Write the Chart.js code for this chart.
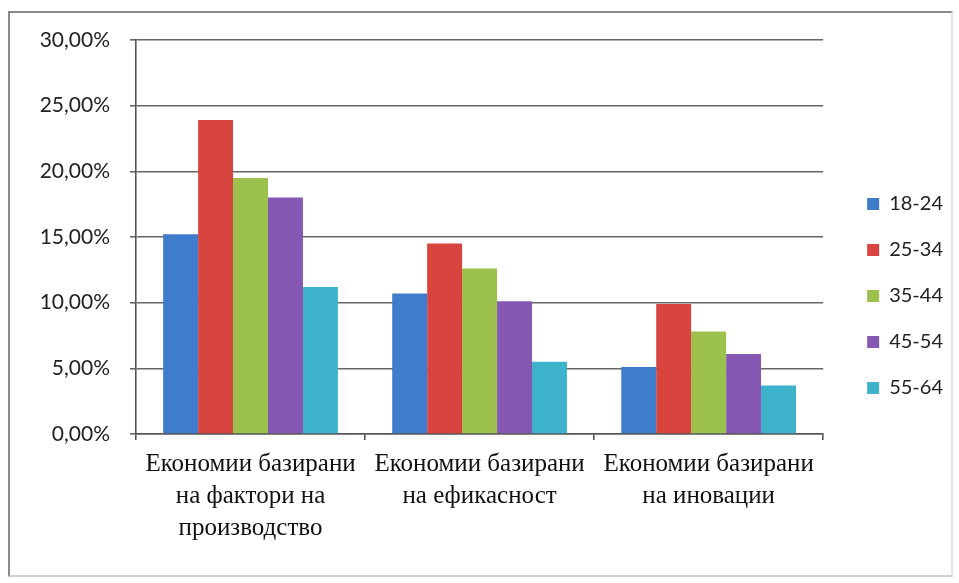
<!DOCTYPE html>
<html>
<head>
<meta charset="utf-8">
<script src="https://cdn.jsdelivr.net/npm/chart.js@4"></script>
<style>
  html, body { margin: 0; padding: 0; background: #fff; }
  #wrap { position: relative; width: 959px; height: 583px; }
  #frame { position: absolute; left: 8px; top: 11px; width: 945px; height: 566px; border: 2px solid #8a8a8a; border-right-color: #e4e4e4; border-bottom-color: #cfcfcf; box-sizing: border-box; }
  canvas { position: absolute; left: 0; top: 0; }
</style>
</head>
<body>
<div id="wrap">
  <div id="frame"></div>
  <canvas id="c" width="959" height="583"></canvas>
</div>
<script>
const categories = [
  ["Економии базирани", "на фактори на", "производство"],
  ["Економии базирани", "на ефикасност"],
  ["Економии базирани", "на иновации"]
];
const seriesNames = ["18-24", "25-34", "35-44", "45-54", "55-64"];
const s18_24 = [15.2, 10.7, 5.1];
const s25_34 = [23.9, 14.5, 9.9];
const s35_44 = [19.5, 12.6, 7.8];
const s45_54 = [18.0, 10.1, 6.1];
const s55_64 = [11.2, 5.5, 3.7];
const yTicks = [0, 5, 10, 15, 20, 25, 30];
const colors = ["#3f7dcc", "#d8453f", "#9cc24d", "#8458b3", "#3db3cb"];

const seriesValues = [s18_24, s25_34, s35_44, s45_54, s55_64];
const datasets = seriesNames.map((n, i) => ({
  label: n,
  data: seriesValues[i],
  backgroundColor: colors[i],
  borderWidth: 0,
  categoryPercentage: 0.763,
  barPercentage: 1.0
}));

const shiftLegend = {
  id: 'shiftLegend',
  afterLayout(chart) {
    if (chart.legend) { chart.legend.left += 18; chart.legend.right += 18; }
  }
};

new Chart(document.getElementById('c'), {
  type: 'bar',
  data: { labels: categories, datasets },
  plugins: [shiftLegend],
  options: {
    responsive: false,
    animation: false,
    layout: { padding: { left: 8, right: 24, top: 40, bottom: 31 } },
    plugins: {
      tooltip: { enabled: false },
      legend: {
        position: 'right',
        labels: {
          boxWidth: 12, boxHeight: 12,
          padding: 26,
          color: '#222',
          font: { family: 'Lato', size: 20 }
        }
      }
    },
    scales: {
      x: {
        grid: { offset: true, drawOnChartArea: false, drawTicks: true, tickLength: 6, color: '#555', lineWidth: 1.6 },
        border: { color: '#555', width: 1.6 },
        ticks: {
          color: '#111', maxRotation: 0, minRotation: 0, autoSkip: false, padding: 8,
          font: { family: 'Liberation Serif', size: 25, lineHeight: 1.28 }
        }
      },
      y: {
        min: 0, max: 30,
        afterFit: (axis) => { axis.width = 128; },
        afterBuildTicks: (axis) => { axis.ticks = yTicks.map(v => ({ value: v })); },
        grid: { color: '#666', lineWidth: 1.6, drawTicks: true, tickLength: 6 },
        border: { color: '#555', width: 1.6 },
        ticks: {
          color: '#222', padding: 20,
          font: { family: 'Lato', size: 21 },
          callback: (v) => v.toFixed(2).replace('.', ',') + '%'
        }
      }
    }
  }
});
</script>
</body>
</html>
